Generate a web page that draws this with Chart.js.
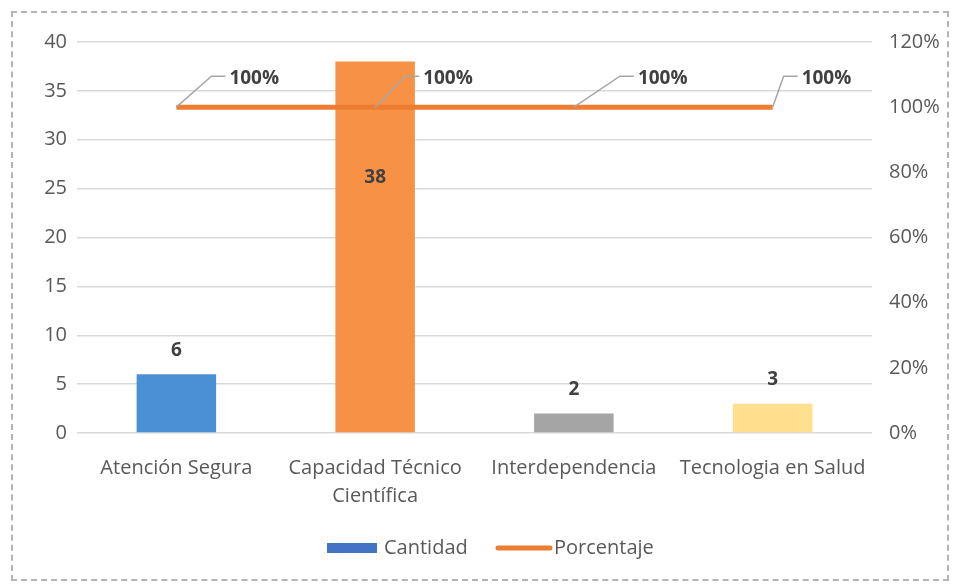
<!DOCTYPE html>
<html>
<head>
<meta charset="utf-8">
<script src="https://cdn.jsdelivr.net/npm/chart.js@4.4.0/dist/chart.umd.min.js"></script>
<style>
  body { margin: 0; background: #fff; }
  #marco { position: absolute; left: 11px; top: 11px; width: 934px; height: 566px; border: 2px dashed #b4b4b4; }
  #lienzo { position: absolute; left: 0; top: 0; }
</style>
</head>
<body>
<div id="marco"></div>
<div style="position:absolute;left:0;top:0;width:956px;height:585px">
  <canvas id="lienzo" width="956" height="585"></canvas>
</div>
<script>
// datos del grafico
let categorias = ['Atención Segura', ['Capacidad Técnico', 'Científica'], 'Interdependencia', 'Tecnologia en Salud'];
let cantidad = [6, 38, 2, 3];
let porcentaje = [100, 100, 100, 100];
let ticksIzq = [0, 5, 10, 15, 20, 25, 30, 35, 40];
let ticksDer = [0, 20, 40, 60, 80, 100, 120];

let coloresBarras = ['#4a90d4', '#f79145', '#a5a5a5', '#ffe08f'];
let fuente = '"Open Sans", sans-serif';

// etiquetas de datos + leyenda dibujadas a mano
let etiquetas = {
  id: 'etiquetas',
  afterDatasetsDraw(chart) {
    let ctx = chart.ctx;
    ctx.save();
    ctx.font = 'bold 19px ' + fuente;
    ctx.fillStyle = '#404040';
    ctx.textAlign = 'center';
    ctx.textBaseline = 'middle';
    let barras = chart.getDatasetMeta(0).data;
    barras.forEach(function(b, i) {
      let v = cantidad[i];
      if (v > 30) {
        ctx.fillText(v, b.x, b.y + 116);
      } else {
        ctx.fillText(v, b.x, b.y - 24);
      }
    });
    // lineas guia de los porcentajes
    let puntos = chart.getDatasetMeta(1).data;
    let dx = [35, 30, 46, 11];
    puntos.forEach(function(p, i) {
      let x1 = p.x + dx[i];
      let y1 = p.y - 31;
      ctx.strokeStyle = '#a6a6a6';
      ctx.lineWidth = 1.5;
      ctx.beginPath();
      ctx.moveTo(p.x, p.y);
      ctx.lineTo(x1, y1);
      ctx.lineTo(x1 + 14, y1);
      ctx.stroke();
      ctx.textAlign = 'left';
      ctx.fillText(porcentaje[i] + '%', x1 + 18, y1 + 2);
    });
    // leyenda
    ctx.font = '20px ' + fuente;
    ctx.fillStyle = '#4472c4';
    ctx.fillRect(327, 543, 50, 10);
    ctx.fillStyle = '#595959';
    ctx.fillText(chart.data.datasets[0].label, 384, 548);
    ctx.strokeStyle = '#ed7d31';
    ctx.lineWidth = 5;
    ctx.lineCap = 'round';
    ctx.beginPath();
    ctx.moveTo(498, 548);
    ctx.lineTo(550, 548);
    ctx.stroke();
    ctx.fillText(chart.data.datasets[1].label, 554, 548);
    ctx.restore();
  }
};

let ctx = document.getElementById('lienzo').getContext('2d');
let grafico = new Chart(ctx, {
  data: {
    labels: categorias,
    datasets: [{
      type: 'bar',
      label: 'Cantidad',
      data: cantidad,
      backgroundColor: coloresBarras,
      yAxisID: 'y',
      barPercentage: 0.8,
      categoryPercentage: 0.5,
      order: 2
    }, {
      type: 'line',
      label: 'Porcentaje',
      data: porcentaje,
      borderColor: '#ed7d31',
      backgroundColor: '#ed7d31',
      borderWidth: 5,
      pointRadius: 0,
      yAxisID: 'y1',
      order: 1
    }]
  },
  options: {
    responsive: false,
    animation: false,
    layout: { padding: { top: 42, left: 0, right: 0, bottom: 0 } },
    plugins: { legend: { display: false }, tooltip: { enabled: false } },
    scales: {
      x: {
        grid: { display: false },
        border: { display: false },
        ticks: { color: '#595959', font: { family: fuente, size: 20, lineHeight: 1.4 }, padding: 13, maxRotation: 0, autoSkip: false },
        afterFit(s) { s.height = 152; }
      },
      y: {
        position: 'left',
        min: 0, max: 40,
        afterBuildTicks(s) { s.ticks = ticksIzq.map(v => ({ value: v })); },
        grid: { color: '#d9d9d9', lineWidth: 1.5, drawTicks: false },
        border: { display: false },
        ticks: { color: '#595959', font: { family: fuente, size: 20 }, padding: 10 },
        afterFit(s) { s.width = 77; }
      },
      y1: {
        position: 'right',
        min: 0, max: 120,
        afterBuildTicks(s) { s.ticks = ticksDer.map(v => ({ value: v })); },
        grid: { display: false, drawTicks: false },
        border: { display: false },
        ticks: { color: '#595959', font: { family: fuente, size: 20 }, padding: 17, callback: v => v + '%' },
        afterFit(s) { s.width = 84; }
      }
    }
  },
  plugins: [etiquetas]
});
</script>
</body>
</html>
